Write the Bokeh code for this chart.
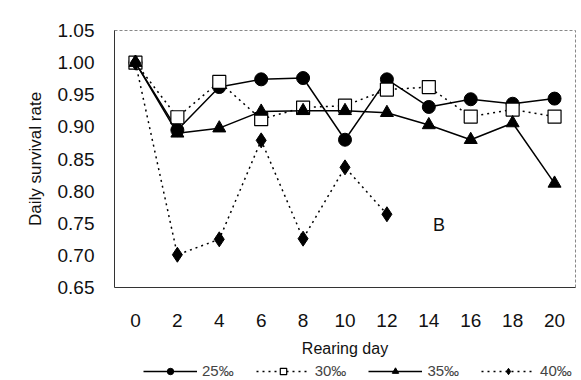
from bokeh.plotting import figure
from bokeh.layouts import column
from bokeh.models import Legend, LegendItem, FixedTicker, Label, NumeralTickFormatter
from bokeh.embed import file_html
from bokeh.resources import INLINE

days = [0, 2, 4, 6, 8, 10, 12, 14, 16, 18, 20]
s25 = [1.00, 0.895, 0.962, 0.974, 0.976, 0.880, 0.974, 0.931, 0.943, 0.936, 0.944]
s30 = [1.00, 0.915, 0.970, 0.912, 0.930, 0.933, 0.958, 0.962, 0.916, 0.927, 0.916]
s35 = [1.00, 0.890, 0.898, 0.924, 0.925, 0.925, 0.922, 0.903, 0.880, 0.906, 0.812]
days40 = [0, 2, 4, 6, 8, 10, 12]
s40 = [1.00, 0.701, 0.725, 0.879, 0.726, 0.837, 0.764]
labels = ["25\u2030", "30\u2030", "35\u2030", "40\u2030"]
y_ticks = [0.65, 0.70, 0.75, 0.80, 0.85, 0.90, 0.95, 1.00, 1.05]

FONT = "Liberation Sans"

p = figure(width=581, height=359, output_backend="svg", toolbar_location=None,
           x_range=(-1, 21), y_range=(0.65, 1.05),
           min_border_left=114, min_border_right=6, min_border_top=30, min_border_bottom=72)
p.background_fill_color = "white"
p.border_fill_color = "white"
p.outline_line_color = "#888888"
p.outline_line_width = 1
p.outline_line_dash = "3 2"
p.xgrid.visible = False
p.ygrid.visible = False

p.xaxis.ticker = FixedTicker(ticks=days)
p.yaxis.ticker = FixedTicker(ticks=y_ticks)
p.yaxis.formatter = NumeralTickFormatter(format="0.00")
for ax in (p.xaxis[0], p.yaxis[0]):
    ax.major_tick_line_color = None
    ax.minor_tick_line_color = None
    ax.axis_line_color = "#333333"
    ax.major_label_text_font = FONT
    ax.major_label_text_font_size = "19px"
    ax.major_label_text_color = "#111111"
    ax.axis_label_text_font = FONT
    ax.axis_label_text_font_style = "normal"
    ax.axis_label_text_color = "#111111"
p.yaxis.major_label_standoff = 14
p.xaxis.major_label_standoff = 20
p.yaxis.axis_label = "Daily survival rate"
p.yaxis.axis_label_text_font_size = "17px"
p.yaxis.axis_label_standoff = 10
p.xaxis.axis_label = "Rearing day"
p.xaxis.axis_label_text_font_size = "16px"
p.xaxis.axis_label_standoff = 10

STY = {
    "25": dict(line=dict(line_color="black", line_width=1.5),
               mark=dict(marker="circle", size=13, fill_color="black", line_color="black")),
    "30": dict(line=dict(line_color="black", line_width=1.5, line_dash="2 4"),
               mark=dict(marker="square", size=13, fill_color="white", line_color="black", line_width=1.2)),
    "35": dict(line=dict(line_color="black", line_width=1.5),
               mark=dict(marker="triangle", size=13, fill_color="black", line_color="black")),
    "40": dict(line=dict(line_color="black", line_width=1.5, line_dash="2 4"),
               mark=dict(marker="diamond", size=15, fill_color="black", line_color="black")),
}
series = [("25", days, s25), ("30", days, s30), ("35", days, s35), ("40", days40, s40)]

for key, xs, ys in series:
    p.line(xs, ys, **STY[key]["line"])
    p.scatter(xs, ys, **STY[key]["mark"])

p.add_layout(Label(x=14.2, y=0.748, text="B", text_font=FONT, text_font_size="18px",
                   text_color="#111111", text_baseline="middle"))

# Legend strip below the chart: same series, drawn outside this strip's visible range,
# so only the legend entries show.
q = figure(width=581, height=21, output_backend="svg", toolbar_location=None,
           x_range=(-1, 21), y_range=(5, 6),
           min_border_left=0, min_border_right=0, min_border_top=0, min_border_bottom=0)
q.axis.visible = False
q.grid.visible = False
q.outline_line_color = None
q.border_fill_color = "white"
q.background_fill_color = "white"
items = []
for (key, xs, ys), lab in zip(series, labels):
    r1 = q.line(xs, ys, **STY[key]["line"])
    r2 = q.scatter(xs, ys, **STY[key]["mark"])
    items.append(LegendItem(label=lab, renderers=[r1, r2]))
legend = Legend(items=items, orientation="horizontal", location=(29, 1),
                label_text_font=FONT, label_text_font_size="15px",
                glyph_width=54, glyph_height=16, spacing=22, padding=0, margin=0,
                border_line_color=None, background_fill_alpha=0, label_standoff=5)
q.add_layout(legend)

open("out.html", "w").write(file_html(column(p, q, spacing=0), INLINE))
